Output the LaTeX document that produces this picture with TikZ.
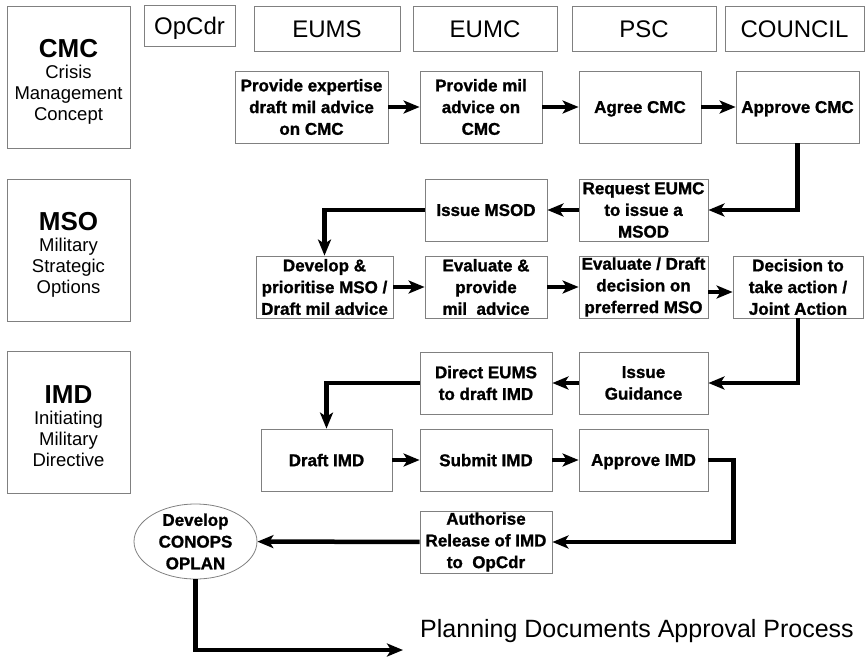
\documentclass[tikz,border=0pt]{standalone}
\usepackage{fontspec}
\setmainfont{Liberation Sans}
\newfontfamily\heavyfont{Liberation Sans Bold}[FakeBold=1.2]
\usetikzlibrary{arrows.meta}
\usetikzlibrary{shapes.geometric}
\newcommand\boxtxt{\heavyfont\fontsize{17}{21.7}\selectfont}
\newcommand\headtxt{\fontsize{24}{28}\selectfont}
\newcommand\phasetxt{\fontsize{18.5}{21}\selectfont}
\newcommand\titletxt{\fontsize{25}{30}\selectfont}
\newcommand\phasehead[1]{{\fontsize{26}{30}\selectfont\bfseries\rule{0pt}{27pt}#1}}

\begin{document}
\begin{tikzpicture}
  [x=1pt,y=-1pt,
   hdr/.style={rectangle,draw=gray,line width=0.8pt,font=\headtxt,text height=17pt,text depth=0pt,minimum height=45pt},
   phase/.style={rectangle,draw=gray,line width=0.8pt,font=\phasetxt,align=center,minimum width=123pt,minimum height=142pt},
   task/.style={rectangle,draw=gray,line width=0.8pt,font=\boxtxt,align=center,inner sep=0pt,minimum height=62pt},
   oneline/.style={text depth=0pt},
   flow/.style={line width=4.5pt,-{Stealth[length=16pt,width=13pt,inset=4pt]}}]
  \useasboundingbox (0,0) rectangle (865,657);

  \node (cmc)[phase] at (68.5,77)  {\phasehead{CMC}\\Crisis\\Management\\Concept};
  \node (mso)[phase] at (68.5,250) {\phasehead{MSO}\\Military\\Strategic\\Options};
  \node (imd)[phase] at (68.5,422) {\phasehead{IMD}\\Initiating\\Military\\Directive};

  \node (opcdr)[hdr,minimum width=91pt,minimum height=41pt] at (189.5,25.5) {OpCdr};
  \node (eums)[hdr,minimum width=146pt]    at (327,28.5)   {EUMS};
  \node (eumc)[hdr,minimum width=144pt]    at (485,28.5)   {EUMC};
  \node (psc)[hdr,minimum width=144pt]     at (644,28.5)   {PSC};
  \node (council)[hdr,minimum width=139pt] at (794.5,28.5) {COUNCIL};

  \node (provexp)[task,minimum width=153pt,minimum height=72pt]    at (311.5,107) {Provide expertise\\draft mil advice\\on CMC};
  \node (provmil)[task,minimum width=122pt,minimum height=72pt]    at (481,107)   {Provide mil\\advice on\\CMC};
  \node (agreecmc)[task,oneline,minimum width=122pt,minimum height=72pt]   at (640,107)   {Agree CMC};
  \node (approvecmc)[task,oneline,minimum width=123pt,minimum height=72pt] at (797.5,107) {Approve CMC};

  \node (issuemsod)[task,oneline,minimum width=122pt] at (486,210)   {Issue MSOD};
  \node (requmc)[task,minimum width=129pt]    at (643.5,210) {Request EUMC\\to issue a\\MSOD};

  \node (devmso)[task,minimum width=137pt]   at (324.5,287) {Develop \&\\prioritise MSO /\\Draft mil advice};
  \node (evalmso)[task,minimum width=122pt]  at (486,287)   {Evaluate \&\\provide\\mil~ advice};
  \node (draftdec)[task,minimum width=129pt] at (643.5,287) {Evaluate / Draft\\decision on\\preferred MSO};
  \node (decision)[task,minimum width=130pt] at (798,287)   {Decision to\\take action /\\Joint Action};

  \node (directeums)[task,minimum width=132pt] at (486,383)   {Direct EUMS\\to draft IMD};
  \node (guidance)[task,minimum width=129pt]   at (643.5,383) {Issue\\Guidance};

  \node (draftimd)[task,oneline,minimum width=131pt]   at (326.5,460) {Draft IMD};
  \node (submitimd)[task,oneline,minimum width=132pt]  at (486,460)   {Submit IMD};
  \node (approveimd)[task,oneline,minimum width=129pt] at (643.5,460) {Approve IMD};

  \node (authorise)[task,minimum width=132pt] at (486,542) {Authorise\\Release of IMD\\to~ OpCdr};
  \node (conops)[ellipse,draw=gray,line width=0.8pt,font=\boxtxt,align=center,inner xsep=0pt,inner ysep=-8pt,minimum width=123pt,minimum height=75pt] at (195.5,541.5) {Develop\\CONOPS\\OPLAN};

  \node (title)[anchor=base,font=\titletxt] at (637,637) {Planning Documents Approval Process};
  \coordinate (release) at (403,650);

  \foreach \from/\to in {provexp/provmil,provmil/agreecmc,agreecmc/approvecmc,requmc/issuemsod,devmso/evalmso,evalmso/draftdec,guidance/directeums,draftimd/submitimd,submitimd/approveimd,authorise/conops}
    \draw[flow] (\from) -- (\to);
  \draw[flow] ([yshift=-5pt]draftdec.east) -- ([yshift=-5pt]decision.west);
  \draw[flow] (approvecmc.south) |- (requmc.east);
  \draw[flow] (issuemsod.west) -| (devmso.north);
  \draw[flow] (decision.south) |- (guidance.east);
  \draw[flow] (directeums.west) -| (draftimd.north);
  \draw[flow] (approveimd.east) -- ++(25,0) |- (authorise.east);
  \draw[flow] (conops.south) |- (release);
\end{tikzpicture}
\end{document}
